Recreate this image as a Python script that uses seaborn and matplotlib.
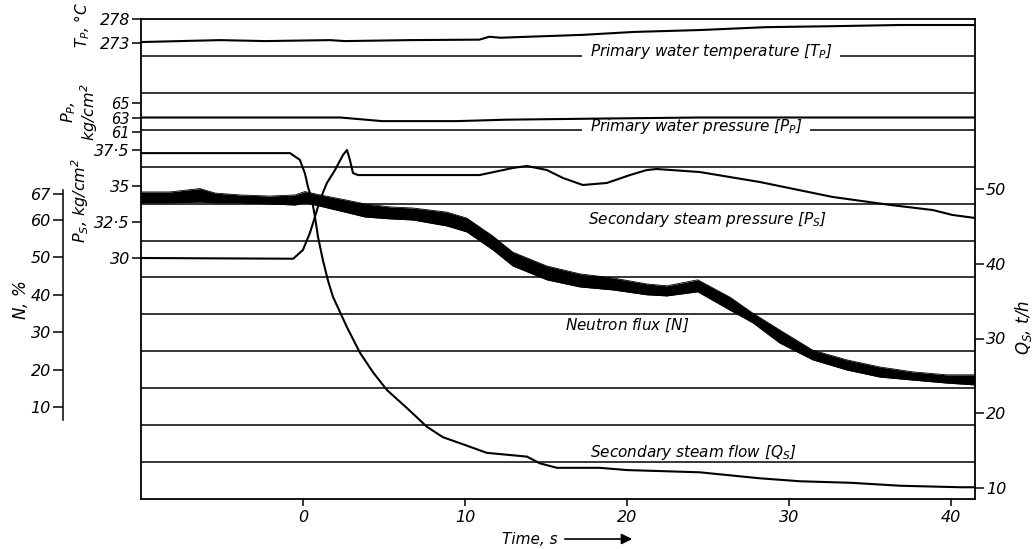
import matplotlib
matplotlib.use('Agg')
import matplotlib.pyplot as plt
import seaborn as sns

sns.set_theme(style="ticks", rc={
    'axes.edgecolor': 'black', 'xtick.color': 'black', 'ytick.color': 'black',
    'text.color': 'black', 'axes.labelcolor': 'black',
})
plt.rcParams['font.family'] = ['DejaVu Sans']
plt.rcParams['font.style'] = 'italic'
plt.rcParams['mathtext.fontset'] = 'dejavusans'
plt.rcParams['mathtext.default'] = 'it'

W, H = 1035, 549
# frame of the recorder chart, in pixels
LEFT, RIGHT, TOP, BOTTOM = 141, 975, 19, 499
N_ROWS = 13
XLIM = (-10, 41.5)

time_ticks = [0, 10, 20, 30, 40]

# primary water temperature, degC
tp_t = [-10, -5.12, -2.35, 1.67, 2.59, 6.6, 10.9, 11.5, 12.2, 17.3, 20.4, 24.5, 28.6, 32.7, 36.85, 41.5]
tp_v = [273.2, 273.6, 273.4, 273.6, 273.4, 273.6, 273.7, 274.3, 274.1, 274.7, 275.3, 275.7, 276.3, 276.5, 276.75, 276.75]
tp_ticks = [273, 278]

# primary water pressure, kg/cm2
pp_t = [-10, 2.3, 4.9, 9.5, 12.6, 18.3, 24.5, 30.7, 41.5]
pp_v = [63.0, 63.0, 62.5, 62.5, 62.7, 62.85, 63.0, 63.0, 63.0]
pp_ticks = [61, 63, 65]

# secondary steam pressure, kg/cm2
ps_t = [-10, -0.6, 0.0, 0.43, 0.74, 1.05, 1.48, 1.98, 2.47, 2.72,
        2.90, 3.09, 3.40, 10.9, 12.96, 13.83, 15.06, 16.05, 17.28, 18.77,
        20.19, 21.23, 21.85, 24.5, 28.2, 32.7, 36.3, 38.9, 40.1, 41.5]
ps_v = [30.0, 29.95, 30.56, 31.74, 32.85, 34.03, 35.21, 36.11, 37.15, 37.5,
        36.81, 35.90, 35.76, 35.76, 36.25, 36.39, 36.11, 35.56, 35.07, 35.21,
        35.76, 36.11, 36.18, 35.97, 35.28, 34.24, 33.68, 33.33, 32.99, 32.78]
ps_ticks = [30, 32.5, 35, 37.5]
ps_labels = ['30', '32·5', '35', '37·5']

# neutron flux, % (noisy trace -> upper / lower edge of the band)
n_t = [-10, -8.21, -6.36, -5.43, -3.89, -2.04, -0.49, 0.12, 1.05, 2.59,
       3.83, 5.37, 6.79, 8.89, 10.12, 11.73, 12.96, 15.06, 17.1, 19.14,
       21.23, 22.47, 24.38, 26.36, 27.78, 29.44, 31.48, 33.58, 35.62, 37.65,
       39.75, 41.48]
n_hi = [67.5, 67.5, 68.4, 67.2, 66.7, 66.4, 66.7, 67.6, 66.7, 65.4,
        64.3, 63.5, 63.2, 62.1, 60.5, 55.7, 51.4, 47.7, 45.6, 44.5,
        42.9, 42.4, 44.0, 39.4, 35.1, 30.6, 25.2, 22.6, 20.7, 19.4,
        18.6, 18.6]
n_lo = [64.6, 64.6, 64.8, 64.6, 64.6, 64.3, 64.0, 64.6, 63.7, 62.1,
        60.8, 60.3, 60.0, 58.4, 56.8, 52.0, 47.7, 44.0, 42.1, 41.3,
        40.0, 39.7, 40.8, 35.9, 32.5, 27.1, 22.6, 19.9, 18.0, 17.2,
        16.4, 15.9]
n_ticks = [10, 20, 30, 40, 50, 60, 67]

# secondary steam flow, t/h
q_t = [-10, -0.8, -0.19, 0.12, 0.31, 0.56, 0.74, 0.93, 1.23, 1.54,
       1.85, 2.72, 3.52, 4.32, 5.19, 6.42, 7.65, 8.64, 9.69, 11.36,
       13.83, 14.63, 15.68, 18.33, 20.0, 24.5, 28.2, 30.7, 33.8, 36.9,
       40.6, 41.5]
q_v = [54.8, 54.8, 53.9, 52.1, 50.3, 48.5, 46.3, 43.6, 40.5, 37.8,
       35.6, 31.5, 28.1, 25.5, 23.1, 20.7, 18.2, 16.8, 16.0, 14.7,
       14.2, 13.3, 12.7, 12.7, 12.4, 12.1, 11.3, 10.9, 10.7, 10.3,
       10.1, 10.1]
q_ticks = [10, 20, 30, 40, 50]

LW_TRACE = 1.5
LW_PAPER = 1.1
TICK_FS = 11.5


def px_lim(v1, p1, v2, p2):
    # y range that puts value v1 on pixel row p1 and v2 on row p2
    k = (v1 - v2) / (p2 - p1)
    return v2 - (BOTTOM - p2) * k, v1 + (p1 - TOP) * k


def fig_xy(x, y):
    return x / W, 1 - y / H


def overlay(ax, lim, side='left', length=6.5, fs=TICK_FS):
    a = ax.twinx()
    for s in a.spines.values():
        s.set_visible(False)
    left = side == 'left'
    a.tick_params(axis='y', left=left, right=not left, labelleft=left, labelright=not left,
                  direction='out', length=length, width=LW_PAPER, pad=1.5, labelsize=fs)
    a._lim = lim
    return a


fig = plt.figure(figsize=(W / 100, H / 100), dpi=100)
ax = fig.add_axes([LEFT / W, (H - BOTTOM) / H, (RIGHT - LEFT) / W, (BOTTOM - TOP) / H])

# chart paper
ax.set_ylim(0, N_ROWS)
ax.set_yticks([])
for k in range(1, N_ROWS):
    ax.axhline(k, color='black', lw=LW_PAPER, zorder=1)
for s in ax.spines.values():
    s.set_linewidth(1.3)
ax.set_xticks(time_ticks)
ax.tick_params(axis='x', direction='out', length=5, width=LW_PAPER, pad=3, labelsize=TICK_FS)

# one overlaid axis per recorded quantity
ax_tp = overlay(ax, px_lim(278, 19, 273, 43))
ax_pp = overlay(ax, px_lim(65, 103, 61, 132), fs=10.5)
ax_ps = overlay(ax, px_lim(37.5, 150, 30, 258))
ax_n = overlay(ax, px_lim(60, 220, 10, 407), length=7.2)
ax_q = overlay(ax, px_lim(50, 189, 10, 488), side='right')

sns.lineplot(x=tp_t, y=tp_v, ax=ax_tp, color='black', linewidth=LW_TRACE)
sns.lineplot(x=pp_t, y=pp_v, ax=ax_pp, color='black', linewidth=LW_TRACE)
sns.lineplot(x=ps_t, y=ps_v, ax=ax_ps, color='black', linewidth=LW_TRACE)
sns.lineplot(x=q_t, y=q_v, ax=ax_q, color='black', linewidth=LW_TRACE)
sns.lineplot(x=n_t, y=n_hi, ax=ax_n, color='black', linewidth=0.6)
sns.lineplot(x=n_t, y=n_lo, ax=ax_n, color='black', linewidth=0.6)
ax_n.fill_between(n_t, n_lo, n_hi, color='black', lw=0)

ax_tp.set_yticks(tp_ticks)
ax_pp.set_yticks(pp_ticks)
ax_ps.set_yticks(ps_ticks, ps_labels)
ax_n.set_yticks(n_ticks)
ax_q.set_yticks(q_ticks)

# neutron flux scale on its own spine further left
ax_n.spines['left'].set_visible(True)
ax_n.spines['left'].set_position(('outward', (LEFT - 63) * 0.72))
ax_n.spines['left'].set_linewidth(LW_PAPER)
ax_n.spines['left'].set_bounds(6.5, 68)

for a in [ax_tp, ax_pp, ax_ps, ax_n, ax_q]:
    a.set_ylim(*a._lim)
    a.set_ylabel('')
ax.set_xlim(*XLIM)
ax.set_xlabel('')

# trace names written on the paper
box = dict(boxstyle='square,pad=0.5', fc='white', ec='none')
ax.text(17.7, 12.12, 'Primary water temperature [$T_P$]', fontsize=11, va='center', bbox=box, zorder=3)
ax.text(17.7, 10.08, 'Primary water pressure [$P_P$]', fontsize=11, va='center', bbox=box, zorder=3)
ax.text(17.6, 7.56, 'Secondary steam pressure [$P_S$]', fontsize=11, va='center', zorder=3)
ax.text(16.2, 4.71, 'Neutron flux [$N$]', fontsize=11, va='center', zorder=3)
ax.text(17.7, 1.27, 'Secondary steam flow [$Q_S$]', fontsize=11, va='center', zorder=3)

# scale names
fig.text(*fig_xy(82, 25), '$T_P$, °C', rotation=90, ha='center', va='center', fontsize=11)
fig.text(*fig_xy(80, 112), '$P_P$,\nkg/cm$^2$', rotation=90, ha='center', va='center', fontsize=11.5,
         linespacing=1.0)
fig.text(*fig_xy(80, 200), '$P_S$, kg/cm$^2$', rotation=90, ha='center', va='center', fontsize=11.5)
fig.text(*fig_xy(20, 300), '$N$, %', rotation=90, ha='center', va='center', fontsize=12)
fig.text(*fig_xy(1024, 327), '$Q_S$, t/h', rotation=90, ha='center', va='center', fontsize=12)

fig.text(*fig_xy(530, 539), 'Time, s', ha='center', va='center', fontsize=11)
ax.annotate('', xy=(635, H - 539), xytext=(562, H - 539), xycoords='figure pixels',
            textcoords='figure pixels',
            arrowprops=dict(arrowstyle='-|>', color='black', lw=1.2, mutation_scale=16))

fig.savefig('out.png', dpi=100)
